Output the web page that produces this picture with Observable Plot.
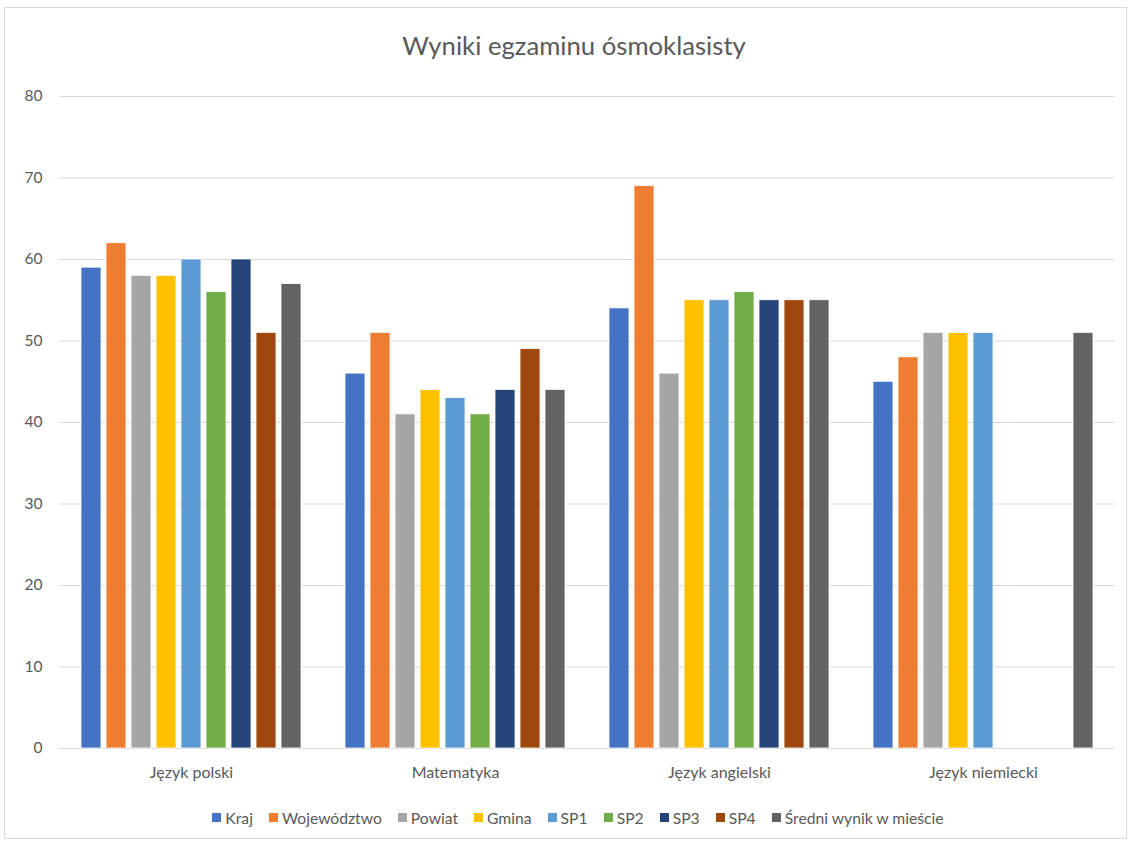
<!DOCTYPE html>
<html>
<head>
<meta charset="utf-8">
<script src="https://cdn.jsdelivr.net/npm/d3@7"></script>
<script src="https://cdn.jsdelivr.net/npm/@observablehq/plot@0.6"></script>
<style>
  html, body { margin: 0; padding: 0; background: #fff; }
  body { width: 1133px; height: 845px; position: relative; overflow: hidden; font-family: Lato, "Open Sans", sans-serif; color: #595959; }
  #frame { position: absolute; left: 4px; top: 7px; width: 1123px; height: 832px; border: 1px solid #d9d9d9; box-sizing: border-box; }
  #title { position: absolute; left: 0; width: 1148px; top: 30px; text-align: center; font-size: 25.7px; color: #595959; }
  #chart { position: absolute; left: 0; top: 0; }
  #legend { position: absolute; left: 0; width: 1172px; top: 801px; display: flex; justify-content: center; }
  #legend .lg-swatch { margin-right: 16px; }
  #legend .lg-swatch > svg { margin-right: 4px; }
</style>
</head>
<body>
<div id="frame"></div>
<div id="chart"></div>
<div id="title">Wyniki egzaminu ósmoklasisty</div>
<div id="legend"></div>
<script>
const categories = ["Język polski", "Matematyka", "Język angielski", "Język niemiecki"];
const series = ["Kraj", "Województwo", "Powiat", "Gmina", "SP1", "SP2", "SP3", "SP4", "Średni wynik w mieście"];
const colors = ["#4472C4", "#ED7D31", "#A5A5A5", "#FFC000", "#5B9BD5", "#70AD47", "#264478", "#9E480E", "#636363"];
const jezykPolski = [59, 62, 58, 58, 60, 56, 60, 51, 57];
const matematyka = [46, 51, 41, 44, 43, 41, 44, 49, 44];
const jezykAngielski = [54, 69, 46, 55, 55, 56, 55, 55, 55];
const jezykNiemiecki = [45, 48, 51, 51, 51, null, null, null, 51];
const yTicks = [0, 10, 20, 30, 40, 50, 60, 70, 80];

const valuesByCategory = [jezykPolski, matematyka, jezykAngielski, jezykNiemiecki];
const data = [];
categories.forEach((c, i) => {
  series.forEach((s, j) => {
    const v = valuesByCategory[i][j];
    if (v != null) data.push({category: c, series: s, value: v});
  });
});

const plot = Plot.plot({
  width: 1133,
  height: 800,
  marginLeft: 57,
  marginRight: 17,
  marginTop: 96,
  marginBottom: 52,
  style: {fontFamily: "Lato, 'Open Sans', sans-serif", color: "#595959", background: "transparent"},
  fx: {domain: categories, padding: 0, label: null},
  x: {domain: series, paddingInner: 0.2, paddingOuter: 0.88, axis: null},
  y: {domain: [0, 80], label: null},
  color: {domain: series, range: colors},
  marks: [
    Plot.gridY(yTicks, {stroke: "#d9d9d9", strokeOpacity: 1, strokeWidth: 1}),
    Plot.barY(data, {fx: "category", x: "series", y: "value", fill: "series", stroke: "white", strokeWidth: 0.8}),
    Plot.axisY(yTicks, {tickSize: 0, tickPadding: 17, fontSize: 15.5, label: null}),
    Plot.axisFx({anchor: "bottom", tickSize: 0, tickPadding: 18, fontSize: 16, label: null})
  ]
});
document.getElementById("chart").appendChild(plot);

const legend = Plot.legend({
  color: {type: "ordinal", domain: series, range: colors},
  swatchSize: 9,
  className: "lg",
  style: {fontSize: "15.7px", color: "#595959", fontFamily: "Lato, 'Open Sans', sans-serif"}
});
document.getElementById("legend").appendChild(legend);
</script>
</body>
</html>
